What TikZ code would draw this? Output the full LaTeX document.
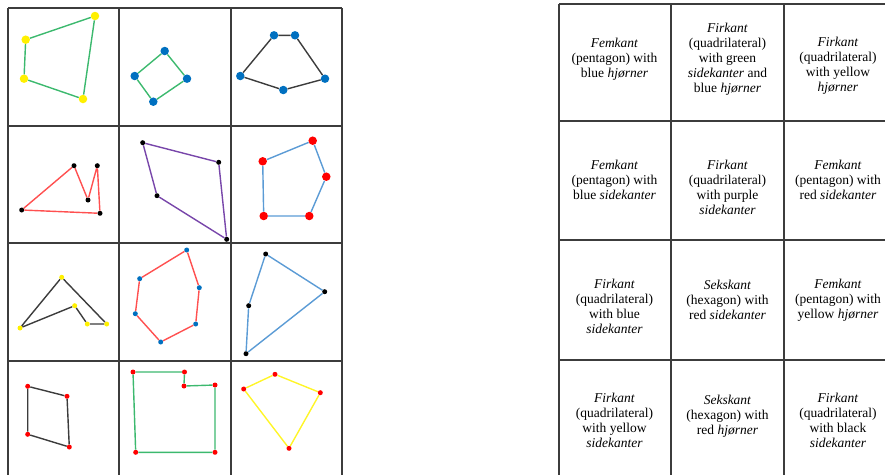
\documentclass[tikz,border=0pt]{standalone}
\usepackage{fontspec}
\setmainfont{Liberation Serif}
\definecolor{sidegreen}{RGB}{60,185,110}
\definecolor{sideblue}{RGB}{91,155,213}
\definecolor{sidered}{RGB}{255,80,80}
\definecolor{sidepurple}{RGB}{120,70,170}
\definecolor{sideblack}{RGB}{60,60,60}
\definecolor{sideyellow}{RGB}{255,245,40}
\definecolor{dotblue}{RGB}{0,112,192}
\definecolor{dotyellow}{RGB}{255,240,0}
\definecolor{dotred}{RGB}{255,0,0}
\definecolor{gridline}{RGB}{60,60,60}
\begin{document}
\begin{tikzpicture}[x=1pt,y=-1pt]
	\tikzstyle{corner}=[circle,inner sep=0pt,minimum size=8.5pt]
	\tikzstyle{dot}=[circle,inner sep=0pt,minimum size=5pt]
	\tikzstyle{side}=[draw,line width=1.4pt]
	\tikzstyle{cell}=[align=center,inner sep=0pt,font=\fontsize{13.5}{15}\selectfont]
	\useasboundingbox (0,0) rectangle (885,474);

	% left table
	\foreach \x in {8,119,231,342}
		\draw[gridline,line width=1.8pt] (\x,8) -- (\x,480);
	\foreach \y in {8,126,243,361}
		\draw[gridline,line width=1.8pt] (8,\y) -- (342,\y);

	% right table
	\foreach \x in {559,671,784}
		\draw[gridline,line width=1.2pt] (\x,4) -- (\x,480);
	\foreach \y in {4,121,240,360}
		\draw[gridline,line width=1.2pt] (559,\y) -- (890,\y);

	% row 1
	\node [corner,fill=dotyellow] (a1) at (95,16) {};
	\node [corner,fill=dotyellow] (a2) at (25.7,39.7) {};
	\node [corner,fill=dotyellow] (a3) at (24,78.7) {};
	\node [corner,fill=dotyellow] (a4) at (83,99) {};
	\path[side,sidegreen] (a1) -- (a2) -- (a3) -- (a4) -- (a1);

	\node [corner,fill=dotblue] (b1) at (164.7,51) {};
	\node [corner,fill=dotblue] (b2) at (134.7,76) {};
	\node [corner,fill=dotblue] (b3) at (153.3,101.7) {};
	\node [corner,fill=dotblue] (b4) at (187,78.7) {};
	\path[side,sidegreen] (b1) -- (b2) -- (b3) -- (b4) -- (b1);

	\node [corner,fill=dotblue] (c1) at (274,35.3) {};
	\node [corner,fill=dotblue] (c2) at (295,35.3) {};
	\node [corner,fill=dotblue] (c3) at (325,78.7) {};
	\node [corner,fill=dotblue] (c4) at (283.3,90) {};
	\node [corner,fill=dotblue] (c5) at (240.3,76) {};
	\path[side,sideblack] (c1) -- (c2) -- (c3) -- (c4) -- (c5) -- (c1);

	% row 2
	\node [dot,fill=black] (d1) at (21.7,210) {};
	\node [dot,fill=black] (d2) at (74,165.7) {};
	\node [dot,fill=black] (d3) at (88,200) {};
	\node [dot,fill=black] (d4) at (97.3,165.7) {};
	\node [dot,fill=black] (d5) at (100,213.3) {};
	\path[side,sidered] (d1) -- (d2) -- (d3) -- (d4) -- (d5) -- (d1);

	\node [dot,fill=black] (e1) at (142.7,142.7) {};
	\node [dot,fill=black] (e2) at (218.7,162.3) {};
	\node [dot,fill=black] (e3) at (226.7,239.3) {};
	\node [dot,fill=black] (e4) at (157,195.7) {};
	\path[side,sidepurple] (e1) -- (e2) -- (e3) -- (e4) -- (e1);

	\node [corner,fill=dotred] (f1) at (312.7,140.7) {};
	\node [corner,fill=dotred] (f2) at (326.3,176.7) {};
	\node [corner,fill=dotred] (f3) at (309.3,216) {};
	\node [corner,fill=dotred] (f4) at (263.7,216) {};
	\node [corner,fill=dotred] (f5) at (262.7,161.3) {};
	\path[side,sideblue] (f1) -- (f2) -- (f3) -- (f4) -- (f5) -- (f1);

	% row 3
	\node [dot,fill=dotyellow] (g1) at (20,328) {};
	\node [dot,fill=dotyellow] (g2) at (61.7,277.3) {};
	\node [dot,fill=dotyellow] (g3) at (106.7,324) {};
	\node [dot,fill=dotyellow] (g4) at (87.3,324) {};
	\node [dot,fill=dotyellow] (g5) at (74.7,305.7) {};
	\path[side,sideblack] (g1) -- (g2) -- (g3) -- (g4) -- (g5) -- (g1);

	\node [dot,fill=dotblue] (h1) at (186.7,250) {};
	\node [dot,fill=dotblue] (h2) at (199.3,287.7) {};
	\node [dot,fill=dotblue] (h3) at (195.7,324) {};
	\node [dot,fill=dotblue] (h4) at (160.7,342) {};
	\node [dot,fill=dotblue] (h5) at (135.3,313.7) {};
	\node [dot,fill=dotblue] (h6) at (139.7,278.7) {};
	\path[side,sidered] (h1) -- (h2) -- (h3) -- (h4) -- (h5) -- (h6) -- (h1);

	\node [dot,fill=black] (i1) at (265.7,254) {};
	\node [dot,fill=black] (i2) at (324.7,291.7) {};
	\node [dot,fill=black] (i3) at (246,353.7) {};
	\node [dot,fill=black] (i4) at (248.7,305.7) {};
	\path[side,sideblue] (i1) -- (i2) -- (i3) -- (i4) -- (i1);

	% row 4
	\node [dot,fill=dotred] (j1) at (27.7,386.3) {};
	\node [dot,fill=dotred] (j2) at (67,396.3) {};
	\node [dot,fill=dotred] (j3) at (69.3,447) {};
	\node [dot,fill=dotred] (j4) at (27.7,434.3) {};
	\path[side,sideblack] (j1) -- (j2) -- (j3) -- (j4) -- (j1);

	\node [dot,fill=dotred] (k1) at (133,372) {};
	\node [dot,fill=dotred] (k2) at (184.5,372) {};
	\node [dot,fill=dotred] (k3) at (184,386) {};
	\node [dot,fill=dotred] (k4) at (215,385) {};
	\node [dot,fill=dotred] (k5) at (215,452.3) {};
	\node [dot,fill=dotred] (k6) at (135.7,452.3) {};
	\path[side,sidegreen] (k1) -- (k2) -- (k3) -- (k4) -- (k5) -- (k6) -- (k1);

	\node [dot,fill=dotred] (l1) at (275,374.3) {};
	\node [dot,fill=dotred] (l2) at (320.3,392.7) {};
	\node [dot,fill=dotred] (l3) at (289,448.3) {};
	\node [dot,fill=dotred] (l4) at (243.7,389) {};
	\path[side,sideyellow] (l1) -- (l2) -- (l3) -- (l4) -- (l1);

	% descriptions
	\node [cell] (t1) at (614.5,59) {\textit{Femkant}\\(pentagon) with\\blue \textit{hjørner}};
	\node [cell] (t2) at (727.5,59) {\textit{Firkant}\\(quadrilateral)\\with green\\\textit{sidekanter} and\\blue \textit{hjørner}};
	\node [cell] (t3) at (838,66) {\textit{Firkant}\\(quadrilateral)\\with yellow\\\textit{hjørner}};
	\node [cell] (t4) at (614.5,180) {\textit{Femkant}\\(pentagon) with\\blue \textit{sidekanter}};
	\node [cell] (t5) at (727.5,187.5) {\textit{Firkant}\\(quadrilateral)\\with purple\\\textit{sidekanter}};
	\node [cell] (t6) at (838,180) {\textit{Femkant}\\(pentagon) with\\red \textit{sidekanter}};
	\node [cell] (t7) at (614.5,306.8) {\textit{Firkant}\\(quadrilateral)\\with blue\\\textit{sidekanter}};
	\node [cell] (t8) at (727.5,300) {\textit{Sekskant}\\(hexagon) with\\red \textit{sidekanter}};
	\node [cell] (t9) at (838,300) {\textit{Femkant}\\(pentagon) with\\yellow \textit{hjørner}};
	\node [cell] (t10) at (614.5,420.5) {\textit{Firkant}\\(quadrilateral)\\with yellow\\\textit{sidekanter}};
	\node [cell] (t11) at (727.5,416.7) {\textit{Sekskant}\\(hexagon) with\\red \textit{hjørner}};
	\node [cell] (t12) at (838,420.5) {\textit{Firkant}\\(quadrilateral)\\with black\\\textit{sidekanter}};
\end{tikzpicture}
\end{document}
